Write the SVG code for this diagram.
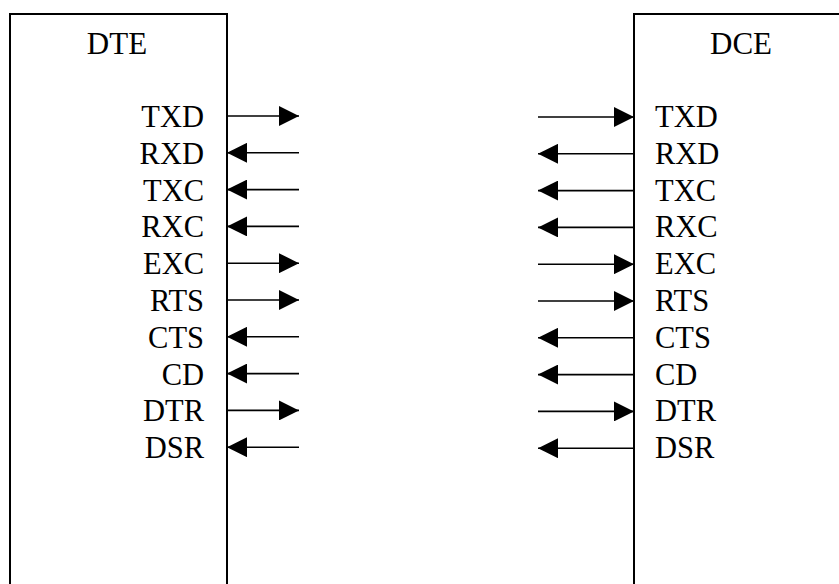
<svg xmlns="http://www.w3.org/2000/svg" width="839" height="584" viewBox="0 0 839 584">
<style>
.box{fill:#fff;stroke:#000;stroke-width:2}
.t{font-family:"Liberation Serif","Times New Roman",serif;font-size:30.5px;fill:#000}
.h{font-size:31px;text-anchor:middle}
.l{text-anchor:end}
.w{stroke:#000;stroke-width:1.6;fill:none;marker-end:url(#ah)}
</style>
<defs>
<marker id="ah" viewBox="0 0 20 20" refX="20" refY="10" markerWidth="20" markerHeight="20" markerUnits="userSpaceOnUse" orient="auto">
<path d="M0,0 L20,10 L0,20 z" fill="#000"/>
</marker>
</defs>
<rect width="839" height="584" fill="#fff"/>
<g id="dte">
<rect class="box" x="10" y="14" width="217" height="600"/>
<text class="t h" x="117" y="54">DTE</text>
<text class="t l" x="204" y="127">TXD</text>
<text class="t l" x="204" y="163.8">RXD</text>
<text class="t l" x="204" y="200.6">TXC</text>
<text class="t l" x="204" y="237.4">RXC</text>
<text class="t l" x="204" y="274.2">EXC</text>
<text class="t l" x="204" y="311">RTS</text>
<text class="t l" x="204" y="347.8">CTS</text>
<text class="t l" x="204" y="384.6">CD</text>
<text class="t l" x="204" y="421.4">DTR</text>
<text class="t l" x="204" y="458.2">DSR</text>
</g>
<g id="dce">
<rect class="box" x="634" y="14" width="230" height="600"/>
<text class="t h" x="741" y="54">DCE</text>
<text class="t" x="655" y="127">TXD</text>
<text class="t" x="655" y="163.8">RXD</text>
<text class="t" x="655" y="200.6">TXC</text>
<text class="t" x="655" y="237.4">RXC</text>
<text class="t" x="655" y="274.2">EXC</text>
<text class="t" x="655" y="311">RTS</text>
<text class="t" x="655" y="347.8">CTS</text>
<text class="t" x="655" y="384.6">CD</text>
<text class="t" x="655" y="421.4">DTR</text>
<text class="t" x="655" y="458.2">DSR</text>
</g>
<g id="connectors">
<line class="w" x1="227" y1="116" x2="299" y2="116"/>
<line class="w" x1="299" y1="152.8" x2="227" y2="152.8"/>
<line class="w" x1="299" y1="189.6" x2="227" y2="189.6"/>
<line class="w" x1="299" y1="226.4" x2="227" y2="226.4"/>
<line class="w" x1="227" y1="263.2" x2="299" y2="263.2"/>
<line class="w" x1="227" y1="300" x2="299" y2="300"/>
<line class="w" x1="299" y1="336.8" x2="227" y2="336.8"/>
<line class="w" x1="299" y1="373.6" x2="227" y2="373.6"/>
<line class="w" x1="227" y1="410.4" x2="299" y2="410.4"/>
<line class="w" x1="299" y1="447.2" x2="227" y2="447.2"/>
<line class="w" x1="538" y1="117" x2="634" y2="117"/>
<line class="w" x1="634" y1="153.8" x2="538" y2="153.8"/>
<line class="w" x1="634" y1="190.6" x2="538" y2="190.6"/>
<line class="w" x1="634" y1="227.4" x2="538" y2="227.4"/>
<line class="w" x1="538" y1="264.2" x2="634" y2="264.2"/>
<line class="w" x1="538" y1="301" x2="634" y2="301"/>
<line class="w" x1="634" y1="337.8" x2="538" y2="337.8"/>
<line class="w" x1="634" y1="374.6" x2="538" y2="374.6"/>
<line class="w" x1="538" y1="411.4" x2="634" y2="411.4"/>
<line class="w" x1="634" y1="448.2" x2="538" y2="448.2"/>
</g>
</svg>
